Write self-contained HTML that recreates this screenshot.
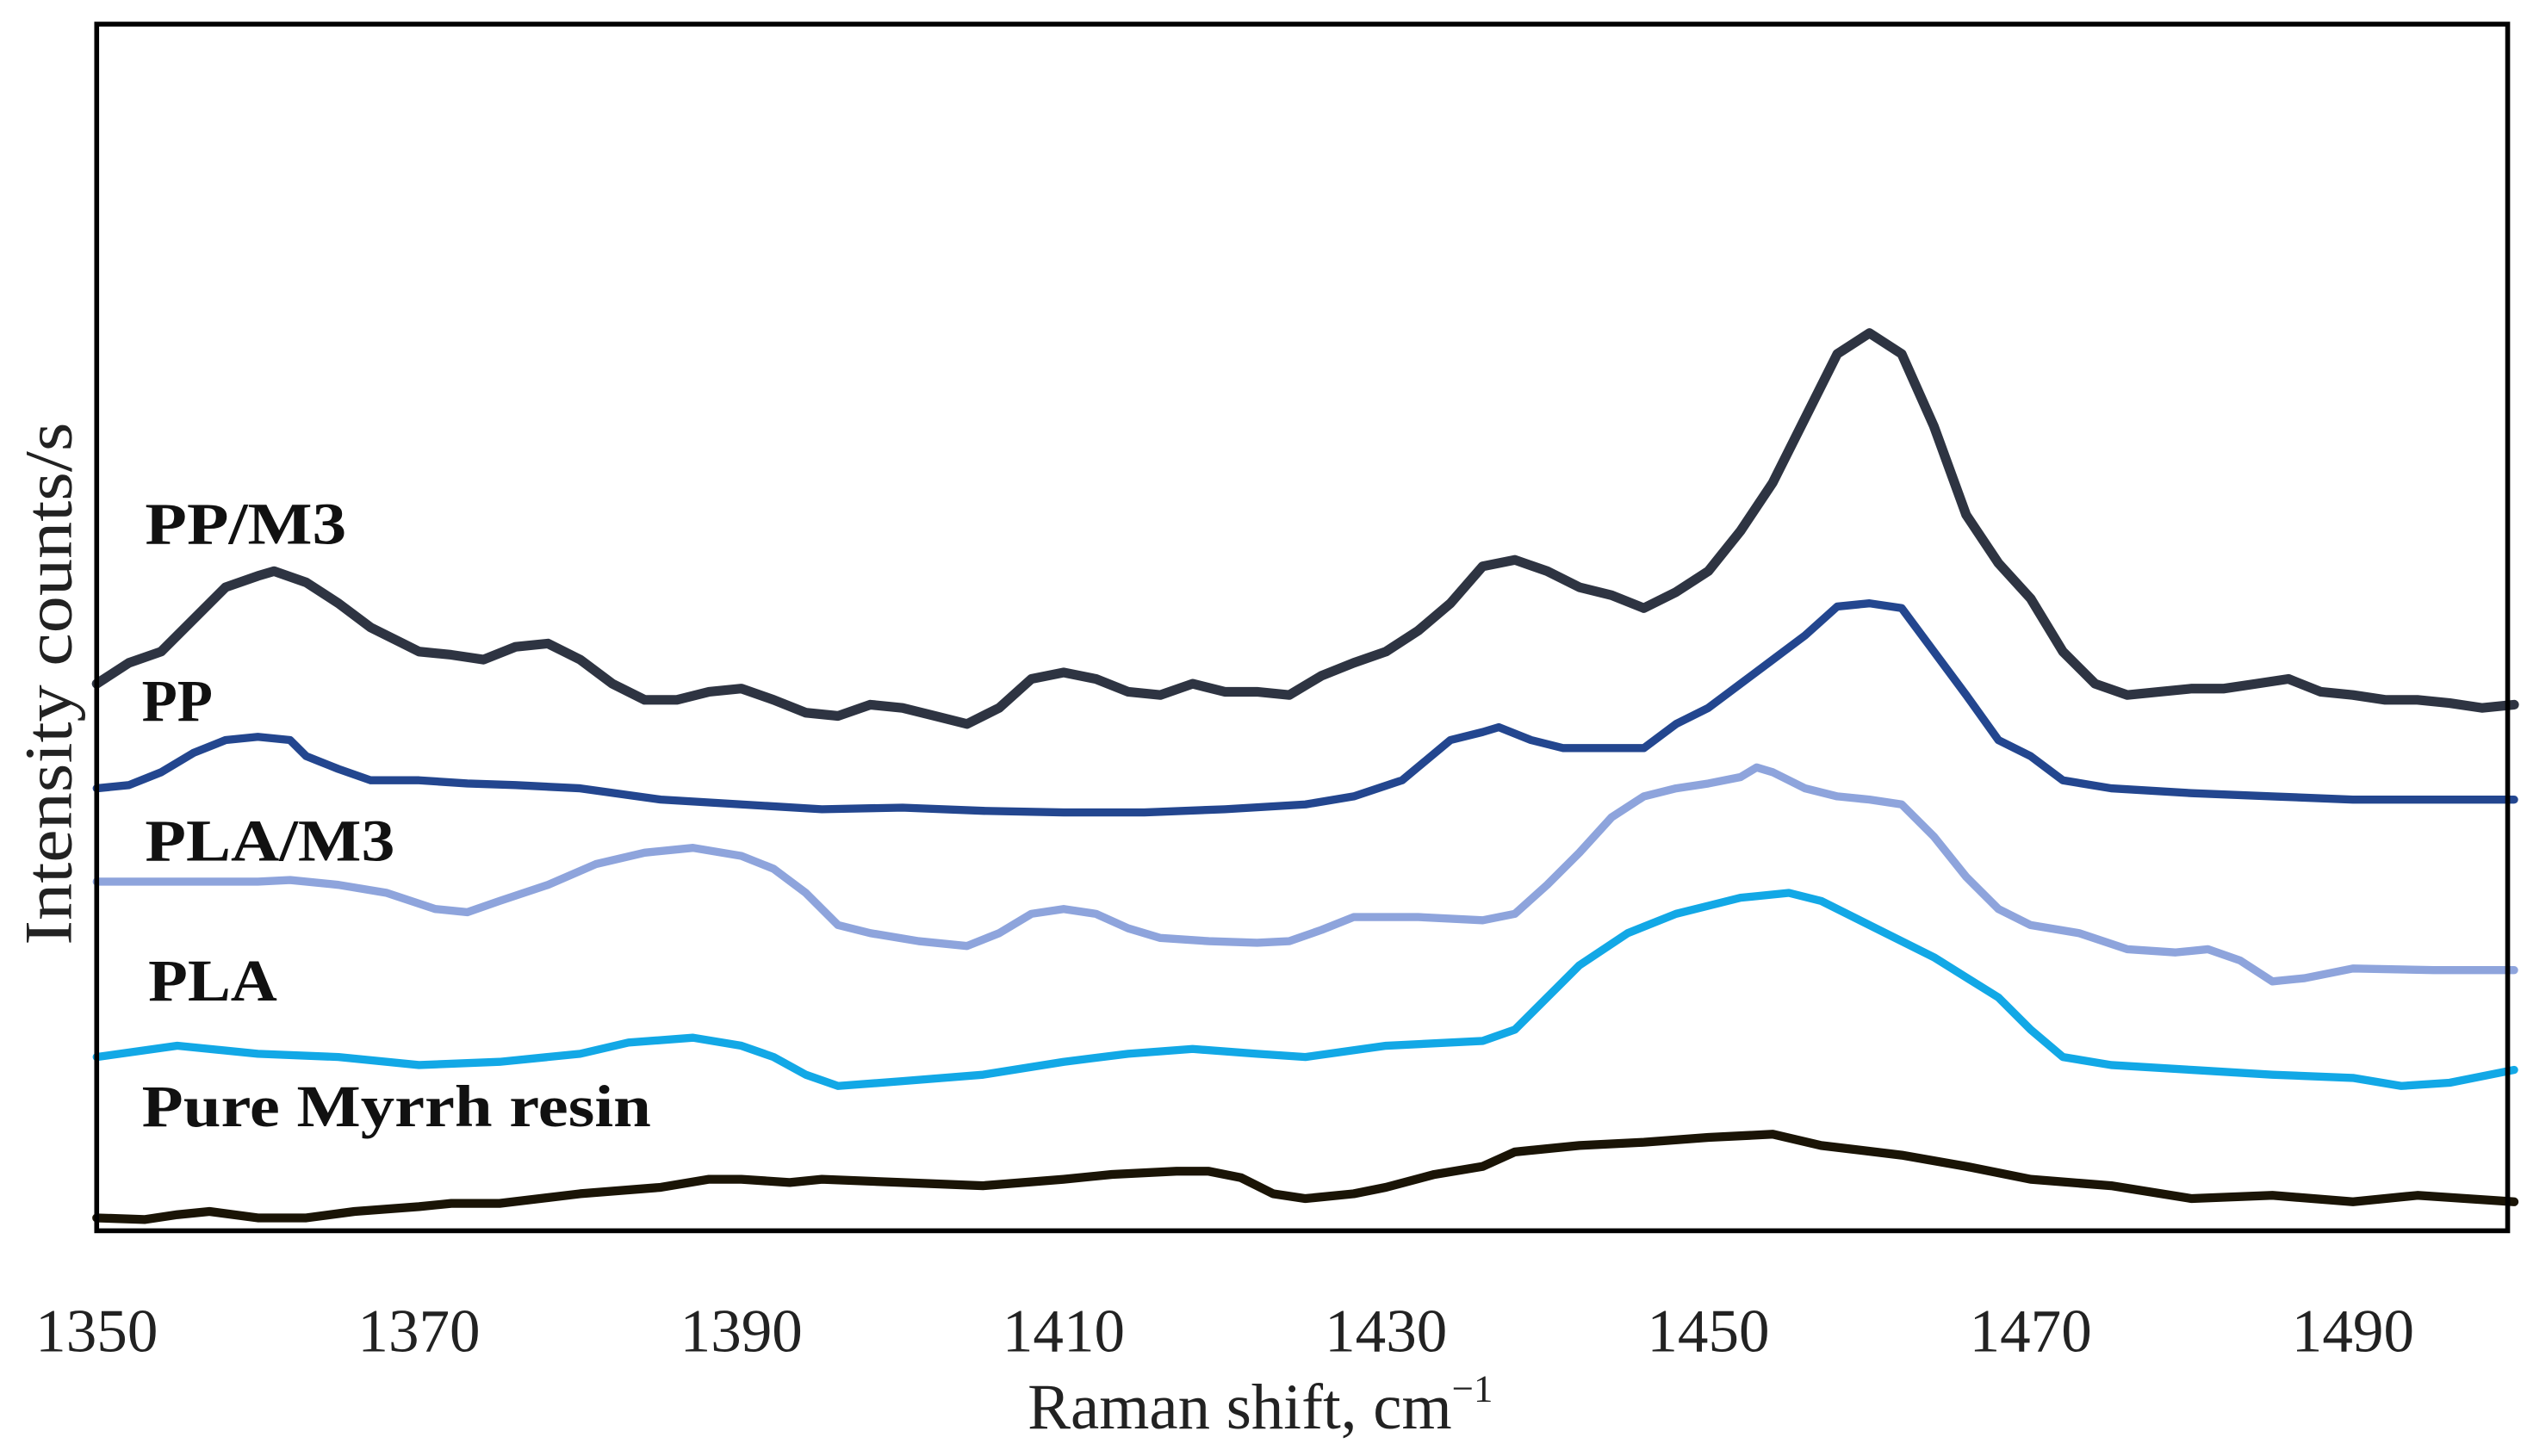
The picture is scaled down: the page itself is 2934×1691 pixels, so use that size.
<!DOCTYPE html>
<html><head><meta charset="utf-8"><style>
html,body{margin:0;padding:0;background:#fff;}
svg{display:block;}
text{font-family:"Liberation Serif",serif;}
</style></head><body>
<svg id="chart" width="2934" height="1691" viewBox="0 0 1568 905" preserveAspectRatio="none" xmlns="http://www.w3.org/2000/svg">
<rect x="0" y="0" width="1568" height="905" fill="#fff"/>
<g id="series"></g>
<rect x="60" y="15" width="1496" height="750" fill="none" stroke="#000" stroke-width="3"/>
<g id="ticks"></g>
<text transform="translate(44,425) rotate(-90)" text-anchor="middle" font-size="42" fill="#222" textLength="325" lengthAdjust="spacingAndGlyphs">Intensity counts/s</text>
<text x="782" y="888" text-anchor="middle" font-size="40" fill="#222">Raman shift, cm<tspan font-size="24" dy="-17">−1</tspan></text>
<text x="90" y="338" font-size="37" font-weight="bold" fill="#111" textLength="125" lengthAdjust="spacingAndGlyphs">PP/M3</text>
<text x="88" y="448" font-size="37" font-weight="bold" fill="#111" textLength="44" lengthAdjust="spacingAndGlyphs">PP</text>
<text x="90" y="535" font-size="37" font-weight="bold" fill="#111" textLength="155" lengthAdjust="spacingAndGlyphs">PLA/M3</text>
<text x="92" y="622" font-size="37" font-weight="bold" fill="#111" textLength="80" lengthAdjust="spacingAndGlyphs">PLA</text>
<text x="88" y="700" font-size="37" font-weight="bold" fill="#111" textLength="316" lengthAdjust="spacingAndGlyphs">Pure Myrrh resin</text>
</svg>
<script>
const xTicks = [1350,1370,1390,1410,1430,1450,1470,1490];
const ppm3X = [1350,1352,1354,1356,1358,1360,1361,1363,1365,1367,1369,1370,1372,1374,1376,1378,1380,1382,1384,1386,1388,1390,1392,1394,1396,1398,1400,1402,1404,1406,1408,1410,1412,1414,1416,1418,1420,1422,1424,1426,1428,1430,1432,1434,1436,1438,1440,1442,1444,1446,1448,1450,1452,1454,1456,1458,1460,1462,1464,1466,1468,1470,1472,1474,1476,1478,1480,1482,1484,1486,1488,1490,1492,1494,1496,1498,1500];
const ppm3Y = [340,353,360,380,400,407,410,403,390,375,365,360,358,355,363,365,355,340,330,330,335,337,330,322,320,327,325,320,315,325,343,347,343,335,333,340,335,335,333,345,353,360,373,390,413,417,410,400,395,387,397,410,435,465,505,545,558,545,500,445,415,393,360,340,333,335,337,337,340,343,335,333,330,330,328,325,327];
const ppX = [1350,1352,1354,1356,1358,1360,1362,1363,1365,1367,1370,1373,1376,1380,1385,1390,1395,1400,1405,1410,1415,1420,1425,1428,1431,1434,1436,1437,1439,1441,1444,1446,1448,1450,1452,1454,1456,1458,1460,1462,1464,1466,1468,1470,1472,1475,1480,1485,1490,1495,1500];
const ppY = [275,277,285,297,305,307,305,295,287,280,280,278,277,275,268,265,262,263,261,260,260,262,265,270,280,305,310,313,305,300,300,300,315,325,340,355,370,388,390,387,360,333,305,295,280,275,272,270,268,268,268];
const plam3X = [1350,1355,1360,1362,1365,1368,1371,1373,1375,1378,1381,1384,1387,1390,1392,1394,1396,1398,1401,1404,1406,1408,1410,1412,1414,1416,1419,1422,1424,1426,1428,1432,1436,1438,1440,1442,1444,1446,1448,1450,1452,1453,1454,1456,1458,1460,1462,1464,1466,1468,1470,1473,1476,1479,1481,1483,1485,1487,1490,1495,1500];
const plam3Y = [217,217,217,218,215,210,200,198,205,215,228,235,238,233,225,210,190,185,180,177,185,197,200,197,188,182,180,179,180,187,195,195,193,197,215,235,257,270,275,278,282,288,285,275,270,268,265,245,220,200,190,185,175,173,175,168,155,157,163,162,162];
const plaX = [1350,1355,1360,1365,1370,1375,1380,1383,1387,1390,1392,1394,1396,1400,1405,1410,1414,1418,1422,1425,1430,1436,1438,1440,1442,1445,1448,1450,1452,1455,1457,1460,1464,1468,1470,1472,1475,1480,1485,1490,1493,1496,1500];
const plaY = [108,115,110,108,103,105,110,117,120,115,108,97,90,93,97,105,110,113,110,108,115,118,125,145,165,185,197,202,207,210,205,190,170,145,125,108,103,100,97,95,90,92,100];
const myrrhX = [1350,1353,1355,1357,1360,1363,1366,1370,1372,1375,1380,1385,1388,1390,1393,1395,1400,1405,1410,1413,1417,1419,1421,1423,1425,1428,1430,1433,1436,1438,1442,1446,1450,1454,1457,1462,1466,1470,1475,1480,1485,1490,1494,1500];
const myrrhY = [8,7,10,12,8,8,12,15,17,17,23,27,32,32,30,32,30,28,32,35,37,37,33,23,20,23,27,35,40,49,53,55,58,60,53,47,40,32,28,20,22,18,22,18];

const X0=1350, X1=1500, PX0=60, PX1=1560, BASE=765;
function xs(v){return PX0+(v-X0)*(PX1-PX0)/(X1-X0);}
function ys(v){return BASE-v;}
const NS="http://www.w3.org/2000/svg";
const sg=document.getElementById('series');
function draw(xa,ya,color,w,name){
  const p=document.createElementNS(NS,'polyline');
  p.setAttribute('points',xa.map((x,i)=>xs(x).toFixed(1)+','+ys(ya[i]).toFixed(1)).join(' '));
  p.setAttribute('fill','none');p.setAttribute('stroke',color);p.setAttribute('stroke-width',w);
  p.setAttribute('stroke-linejoin','round');p.setAttribute('stroke-linecap','round');
  
  
  sg.appendChild(p);
}
draw(myrrhX,myrrhY,'#1a1406',5.5,'line-pure-myrrh-resin');
draw(plaX,plaY,'#12a8e6',5,'line-pla');
draw(plam3X,plam3Y,'#8ea4dc',5,'line-pla-m3');
draw(ppX,ppY,'#23468f',5,'line-pp');
draw(ppm3X,ppm3Y,'#2e3442',6,'line-pp-m3');
const tg=document.getElementById('ticks');
xTicks.forEach(t=>{
  const tx=document.createElementNS(NS,'text');
  tx.setAttribute('x',xs(t));tx.setAttribute('y',840);
  tx.setAttribute('text-anchor','middle');tx.setAttribute('font-size','38');tx.setAttribute('fill','#222');
  tx.textContent=t;
  
  
  tg.appendChild(tx);
});
</script>
</body></html>
